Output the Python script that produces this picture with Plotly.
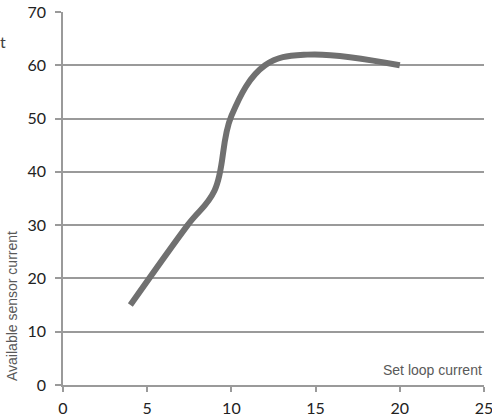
import plotly.graph_objects as go

x_vals = [4, 7.4, 9, 10, 12, 14.5, 20]
y_vals = [15, 30, 36.5, 50.5, 60, 62, 60]

x_ticks = [0, 5, 10, 15, 20, 25]
y_ticks = [0, 10, 20, 30, 40, 50, 60, 70]

fig = go.Figure()
fig.add_trace(go.Scatter(
    x=x_vals, y=y_vals, mode="lines",
    line=dict(color="#707070", width=6, shape="spline", smoothing=1.1),
    hoverinfo="skip", showlegend=False,
))

grid = "#9a9a9a"
font_family = "Lato, Liberation Sans, sans-serif"
title_font = "Liberation Sans, Arial, sans-serif"
fig.update_layout(
    width=492, height=420,
    margin=dict(l=63, r=8, t=12, b=35, autoexpand=False),
    paper_bgcolor="white", plot_bgcolor="white",
    font=dict(family=font_family, size=16, color="#222222"),
    xaxis=dict(range=[0, 25], tickvals=x_ticks, showgrid=False, zeroline=False,
               showline=True, linecolor=grid, linewidth=1.5,
               ticks="outside", ticklen=5, tickcolor=grid, tickwidth=1.5,
               automargin=False, ticklabeloverflow="allow", ticklabelstandoff=3,
               tickfont=dict(size=16, color="#222222")),
    yaxis=dict(range=[0, 70], tickvals=y_ticks, showgrid=True, gridcolor=grid, gridwidth=1.5,
               zeroline=False, showline=True, linecolor=grid, linewidth=1.5,
               ticks="outside", ticklen=6, tickcolor=grid, tickwidth=1.5,
               automargin=False, ticklabeloverflow="allow", ticklabelstandoff=6,
               tickfont=dict(size=16, color="#222222")),
    annotations=[
        dict(text="Set loop current", x=1, y=0, xref="paper", yref="paper",
             xanchor="right", yanchor="bottom", yshift=5, showarrow=False,
             font=dict(size=14, color="#595959", family=title_font)),
        dict(text="Available sensor current", x=0, y=0, xref="paper", yref="paper",
             xanchor="center", yanchor="bottom", xshift=-51, yshift=2, textangle=-90, showarrow=False,
             font=dict(size=14, color="#595959", family=title_font)),
        dict(text="t", x=0, y=1, xref="paper", yref="paper",
             xanchor="left", yanchor="middle", xshift=-65, yshift=-29, showarrow=False,
             font=dict(size=16, color="#404040", family=font_family)),
    ],
)

fig.write_html("out.html", config={"displayModeBar": False},
               post_script="document.body.style.margin='0';")
